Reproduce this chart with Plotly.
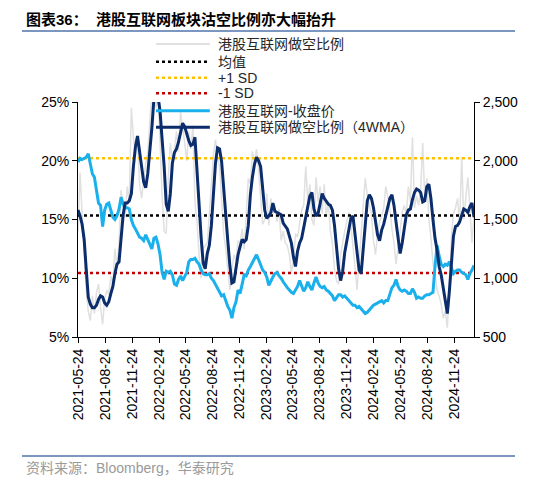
import pandas as pd
import plotly.graph_objects as go

# weekly dates (Fridays)
dates = pd.date_range("2021-05-21", periods=194, freq="7D")

# 港股互联网做空比例 (weekly, %)
short_ratio = [
    14.0, 19.0, 15.5, 12.0, 9.0, 7.2, 6.4, 8.5, 7.0, 8.8,
    9.5, 7.5, 6.1, 8.2, 9.0, 8.6, 10.2, 9.4, 12.5, 11.0,
    13.0, 17.5, 16.0, 15.2, 17.8, 16.5, 24.5, 22.0, 20.5, 21.8,
    18.0, 16.8, 18.5, 19.8, 20.6, 24.0, 26.0, 27.0, 24.5, 25.8,
    20.5, 17.0, 14.0, 13.8, 18.5, 21.5, 20.0, 21.0, 22.5, 20.8,
    24.2, 23.0, 21.5, 20.0, 22.5, 21.0, 23.0, 16.5, 14.8, 12.0,
    10.0, 12.5, 12.8, 13.0, 15.5, 17.8, 20.5, 21.8, 20.2, 19.5,
    16.2, 13.8, 12.5, 10.5, 9.0, 10.8, 12.0, 11.5, 13.2, 13.0,
    14.2, 12.5, 15.5, 18.5, 18.0, 20.8, 19.8, 21.0, 19.2, 16.5,
    14.6, 15.0, 17.2, 14.5, 16.8, 15.5, 16.0, 14.8, 15.9, 13.2,
    14.0, 13.0, 12.8, 12.0, 10.5, 11.5, 13.8, 13.5, 14.5, 15.8,
    16.2, 19.5, 16.5, 18.0, 15.0, 14.5, 18.6, 16.5, 17.8, 15.5,
    18.0, 15.2, 16.5, 14.0, 13.0, 10.8, 9.8, 9.5, 12.0, 13.2,
    14.0, 14.8, 15.6, 14.5, 13.0, 11.0, 9.0, 11.5, 14.5, 16.2,
    18.5, 17.0, 16.2, 15.5, 13.2, 12.0, 13.8, 14.8, 15.3, 16.0,
    17.8, 16.8, 16.0, 14.2, 13.0, 11.2, 12.5, 14.0, 15.6, 16.2,
    15.5, 17.8, 16.5, 22.0, 16.0, 17.0, 16.2, 17.5, 21.5, 16.8,
    18.5, 15.0, 13.5, 11.2, 10.5, 9.0, 8.5, 7.8, 6.6, 7.2,
    5.8, 9.0, 13.5, 15.5, 16.0, 16.8, 14.6, 20.3, 15.0, 17.0,
    18.6, 16.0, 13.0, 15.4,
]

# 港股互联网做空比例（4WMA）(%)
short_ratio_4wma = [
    15.8, 15.3, 14.6, 13.3, 10.8, 8.4, 7.8, 7.5, 7.5, 7.7,
    8.2, 8.5, 8.4, 7.9, 7.7, 8.0, 8.7, 9.3, 10.4, 11.2,
    11.4, 13.5, 15.4, 16.4, 16.4, 16.6, 17.2, 19.5, 21.2, 22.1,
    21.0, 19.5, 18.2, 17.7, 18.9, 20.6, 22.8, 25.3, 26.5, 25.5,
    24.2, 21.8, 19.5, 16.3, 15.7, 17.2, 19.8, 20.7, 21.0, 21.6,
    22.5, 23.2, 22.9, 22.2, 21.7, 21.3, 21.4, 22.0, 19.0, 16.5,
    13.5, 11.3, 10.8, 12.1, 12.8, 14.5, 16.8, 19.8, 21.1, 21.0,
    19.9, 17.5, 14.9, 13.2, 11.1, 9.6, 9.7, 11.0, 12.0, 12.7,
    13.3, 13.1, 13.3, 14.5, 17.1, 18.6, 19.7, 20.3, 20.0, 19.5,
    17.8, 15.8, 15.1, 15.3, 15.6, 16.4, 15.7, 15.6, 15.5, 15.4,
    14.7, 14.4, 14.2, 13.6, 13.0, 11.8, 11.0, 12.3, 13.0, 13.4,
    14.4, 15.3, 16.1, 17.0, 17.3, 15.9, 15.3, 15.5, 16.3, 17.2,
    16.8, 16.5, 16.3, 16.2, 15.8, 14.5, 12.5, 10.8, 9.8, 10.6,
    12.2, 13.3, 14.3, 15.1, 15.3, 13.8, 12.3, 10.7, 10.4, 12.5,
    15.0, 16.6, 17.1, 16.8, 16.0, 14.8, 13.7, 13.2, 14.1, 14.6,
    15.4, 16.1, 16.8, 17.1, 16.2, 14.8, 13.5, 12.1, 13.0, 14.2,
    15.4, 15.8, 15.9, 16.7, 17.3, 17.6, 17.5, 17.3, 16.5, 16.6,
    17.8, 18.0, 16.8, 15.0, 13.4, 12.4, 11.0, 10.3, 9.1, 8.0,
    7.0, 8.9, 11.6, 13.6, 14.4, 14.5, 14.8, 15.3, 15.9, 15.8,
    15.6, 16.1, 16.4, 15.2,
]

# 港股互联网-收盘价 (right axis)
close_price = [
    1990, 2020, 2010, 2020, 2030, 2060, 1960, 1890, 1860, 1750,
    1640, 1620, 1440, 1580, 1630, 1640, 1580, 1520, 1500, 1530,
    1590, 1690, 1630, 1600, 1600, 1590, 1500, 1450, 1420, 1390,
    1350, 1340, 1320, 1370, 1330, 1290, 1250, 1340, 1350, 1290,
    1200, 1050, 990, 1060, 1050, 1060, 1030, 950, 940, 990,
    1020, 980, 1010, 1050, 1140, 1160, 1160, 1170, 1140, 1120,
    1070, 1040, 1030, 1030, 1040, 1000, 980, 950, 920, 880,
    850, 860, 800, 760, 730, 660, 750, 800, 900, 870,
    950, 1030, 1020, 1070, 1100, 1130, 1160, 1200, 1160, 1110,
    1070, 1050, 1010, 940, 980, 1010, 1040, 1050, 1020, 1000,
    970, 940, 920, 900, 880, 870, 900, 930, 980, 940,
    890, 920, 970, 930, 900, 960, 1010, 960, 930, 920,
    930, 900, 890, 870, 850, 810, 840, 860, 860, 840,
    850, 830, 810, 790, 770, 770, 750, 760, 740, 720,
    700, 710, 730, 750, 770, 780, 790, 800, 810, 790,
    810, 810, 860, 920, 940, 990, 930, 900, 890, 900,
    890, 870, 870, 910, 880, 830, 840, 830, 830, 850,
    860, 860, 870, 880, 1100, 1280, 1190, 1120, 1100, 1120,
    1110, 1140, 1090, 1040, 1060, 1070, 1070, 1050, 1040, 1030,
    990, 1040, 1070, 1110,
]

mean_val = 15.33
plus_sd = 20.22
minus_sd = 10.44
line_x = [dates[0], dates[-1]]

tick_dates = ["2021-05-24", "2021-08-24", "2021-11-24", "2022-02-24", "2022-05-24",
              "2022-08-24", "2022-11-24", "2023-02-24", "2023-05-24", "2023-08-24",
              "2023-11-24", "2024-02-24", "2024-05-24", "2024-08-24", "2024-11-24"]
left_ticks = [5, 10, 15, 20, 25]
left_labels = ["5%", "10%", "15%", "20%", "25%"]
right_ticks = [500, 1000, 1500, 2000, 2500]

FONT = "Liberation Sans, Arial, Noto Sans CJK SC"

# series styles, in legend order
series = [
    ("港股互联网做空比例", "#e0e0e0", 1.5, "solid"),
    ("均值", "#000000", 2.5, "dot"),
    ("+1 SD", "#ffc000", 2.5, "dot"),
    ("-1 SD", "#c00000", 2.5, "dot"),
    ("港股互联网-收盘价", "#19b0ec", 3, "solid"),
    ("港股互联网做空比例（4WMA）", "#0b2d6c", 3, "solid"),
]

fig = go.Figure()
fig.add_trace(go.Scatter(x=dates, y=short_ratio, name=series[0][0], mode="lines",
                         line=dict(color=series[0][1], width=series[0][2])))
fig.add_trace(go.Scatter(x=line_x, y=[mean_val, mean_val], name=series[1][0], mode="lines",
                         line=dict(color=series[1][1], width=series[1][2], dash="dot")))
fig.add_trace(go.Scatter(x=line_x, y=[plus_sd, plus_sd], name=series[2][0], mode="lines",
                         line=dict(color=series[2][1], width=series[2][2], dash="dot")))
fig.add_trace(go.Scatter(x=line_x, y=[minus_sd, minus_sd], name=series[3][0], mode="lines",
                         line=dict(color=series[3][1], width=series[3][2], dash="dot")))
fig.add_trace(go.Scatter(x=dates, y=close_price, name=series[4][0], mode="lines",
                         yaxis="y2", line=dict(color=series[4][1], width=series[4][2])))
fig.add_trace(go.Scatter(x=dates, y=short_ratio_4wma, name=series[5][0], mode="lines",
                         yaxis="y3", line=dict(color=series[5][1], width=series[5][2])))

axis_common = dict(showline=True, linecolor="black", linewidth=1, ticks="outside",
                   ticklen=5, tickcolor="black", showgrid=False, zeroline=False,
                   automargin=False,
                   tickfont=dict(size=14, color="black", family=FONT))

fig.update_layout(
    width=550, height=489,
    margin=dict(l=78, r=76, t=102, b=152),
    paper_bgcolor="white", plot_bgcolor="white",
    font=dict(family=FONT),
    showlegend=False,
    xaxis=dict(type="date", range=[dates[0], dates[-1]], tickvals=tick_dates,
               tickformat="%Y-%m-%d", tickangle=-90, **axis_common),
    yaxis=dict(range=[5, 25], tickvals=left_ticks, ticktext=left_labels, **axis_common),
    yaxis2=dict(range=[500, 2500], tickvals=right_ticks, tickformat=",d",
                overlaying="y", side="right", **axis_common),
    yaxis3=dict(range=[5, 25], overlaying="y", visible=False),
)

# legend drawn inside the plot, as in the source chart
legend_rows = [1.2468, 1.1715, 1.1034, 1.0370, 0.9630, 0.8923]
for (name, color, width, dash), ly in zip(series, legend_rows):
    sample_w = 2 if width < 2 else width
    fig.add_shape(type="line", xref="paper", yref="paper", x0=0.197, x1=0.333,
                  y0=ly, y1=ly, line=dict(color=color, width=sample_w, dash=dash))
    fig.add_annotation(x=0.348, y=ly, xref="paper", yref="paper", xanchor="left",
                       yanchor="middle", showarrow=False, text=name,
                       font=dict(size=14, color="#262626", family=FONT))

# title, rules, source
fig.add_annotation(x=-0.1364, y=1.353, xref="paper", yref="paper", xanchor="left",
                   yanchor="middle", showarrow=False,
                   text="<b>图表36：  港股互联网板块沽空比例亦大幅抬升</b>",
                   font=dict(size=15, color="black", family=FONT))
fig.add_shape(type="line", xref="paper", yref="paper", x0=-0.1414, x1=1.1035,
              y0=1.302, y1=1.302, line=dict(color="#7b97bf", width=2))
fig.add_shape(type="line", xref="paper", yref="paper", x0=-0.1414, x1=1.1035,
              y0=-0.506, y1=-0.506, line=dict(color="#7b97bf", width=2))
fig.add_annotation(x=-0.1364, y=-0.557, xref="paper", yref="paper", xanchor="left",
                   yanchor="middle", showarrow=False,
                   text="资料来源：Bloomberg，华泰研究",
                   font=dict(size=14, color="#9a9a9a", family=FONT))

# page has a default 8px body margin; remove it so the figure sits at the window origin
fig.write_html("out.html", config={"displayModeBar": False},
               post_script="document.body.style.margin='0px';")
